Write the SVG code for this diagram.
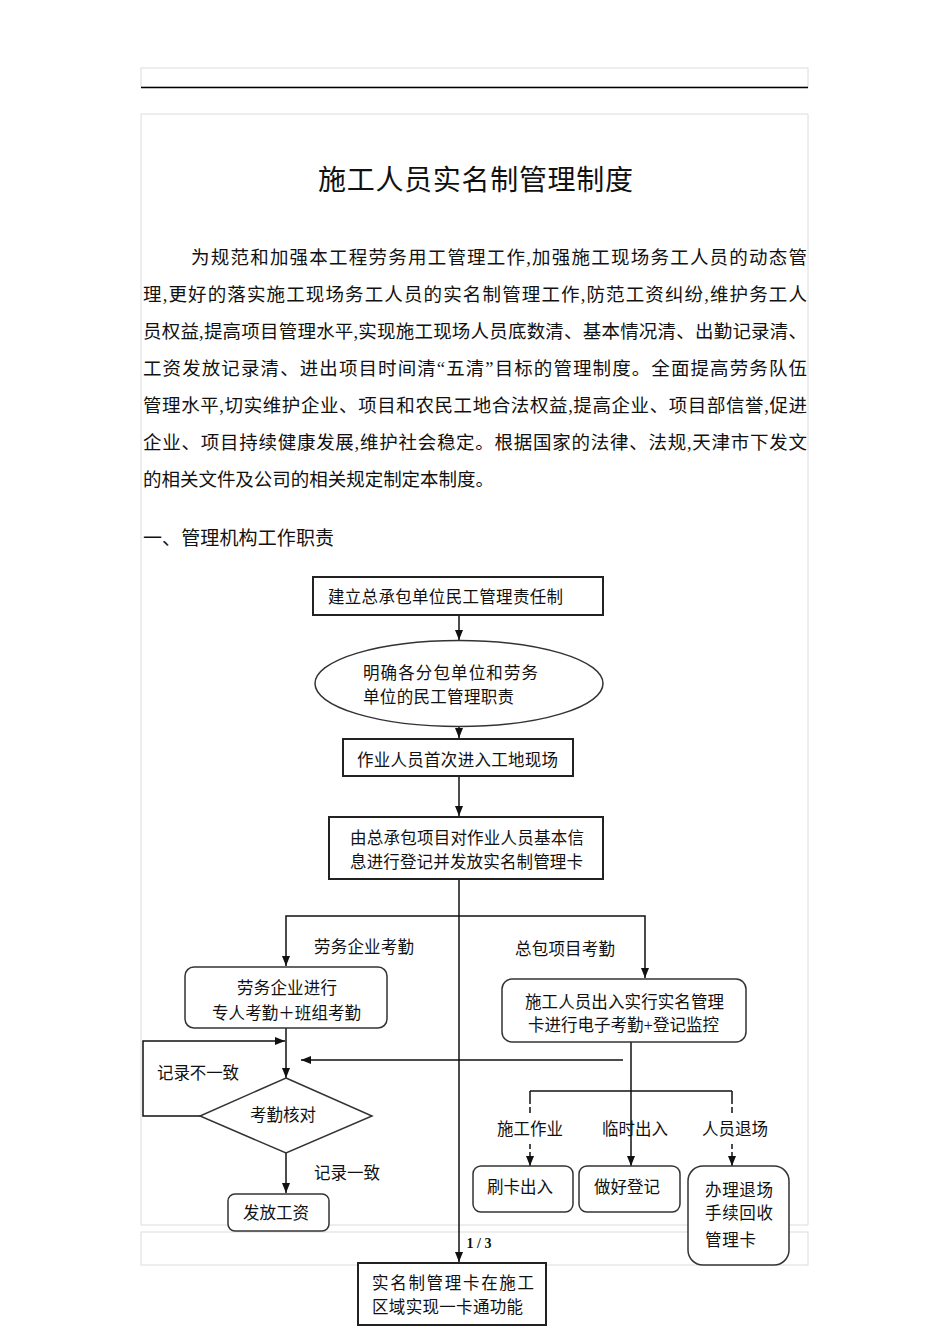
<svg xmlns="http://www.w3.org/2000/svg" width="950" height="1344" viewBox="0 0 950 1344">
<style>
.page{fill:none;stroke:#dcdcdc;stroke-width:1}
.t{font-family:"Liberation Serif","Noto Sans CJK SC",serif;fill:#111}
.p{font-size:18.5px}
.f{font-size:16.5px}
.box{fill:#fff;stroke:#222;stroke-width:2}
.rbox{fill:#fff;stroke:#333;stroke-width:1.5}
.ln{fill:none;stroke:#111;stroke-width:1.5}
</style>
<defs>
<marker id="ah" markerUnits="userSpaceOnUse" markerWidth="10" markerHeight="10" viewBox="0 0 10 10" refX="10" refY="5" orient="auto">
<path d="M0,1 L10,5 L0,9 Z" fill="#111"/>
</marker>
</defs>
<rect width="950" height="1344" fill="#fff"/>
<g id="page-frame">
<rect class="page" x="141" y="68" width="667" height="19"/>
<line x1="141" y1="87.5" x2="808" y2="87.5" stroke="#000" stroke-width="1.6"/>
<path class="page" d="M141,1225 V114 H808 V1225 H141"/>
<rect class="page" x="141" y="1232" width="667" height="33"/>
<text x="479" y="1248" text-anchor="middle" font-family="Liberation Serif,serif" font-weight="bold" font-size="14" fill="#111">1 / 3</text>
</g>
<g id="document-text" class="t">
<text x="318" y="190" font-size="28" textLength="315" lengthAdjust="spacing">施工人员实名制管理制度</text>
<text class="p" x="191" y="264" textLength="616" lengthAdjust="spacing">为规范和加强本工程劳务用工管理工作,加强施工现场务工人员的动态管</text>
<text class="p" x="143" y="301" textLength="664" lengthAdjust="spacing">理,更好的落实施工现场务工人员的实名制管理工作,防范工资纠纷,维护务工人</text>
<text class="p" x="143" y="338" textLength="664" lengthAdjust="spacing">员权益,提高项目管理水平,实现施工现场人员底数清、基本情况清、出勤记录清、</text>
<text class="p" x="143" y="375" textLength="664" lengthAdjust="spacing">工资发放记录清、进出项目时间清“五清”目标的管理制度。全面提高劳务队伍</text>
<text class="p" x="143" y="412" textLength="664" lengthAdjust="spacing">管理水平,切实维护企业、项目和农民工地合法权益,提高企业、项目部信誉,促进</text>
<text class="p" x="143" y="449" textLength="664" lengthAdjust="spacing">企业、项目持续健康发展,维护社会稳定。根据国家的法律、法规,天津市下发文</text>
<text class="p" x="143" y="486" textLength="351" lengthAdjust="spacing">的相关文件及公司的相关规定制定本制度。</text>
<text x="143" y="545" font-size="19" textLength="191" lengthAdjust="spacing">一、管理机构工作职责</text>
</g>
<g id="connectors">
<line class="ln" x1="459" y1="615" x2="459" y2="640" marker-end="url(#ah)"/>
<line class="ln" x1="459" y1="727" x2="459" y2="738" marker-end="url(#ah)"/>
<line class="ln" x1="459" y1="776" x2="459" y2="816" marker-end="url(#ah)"/>
<line class="ln" x1="459" y1="879" x2="459" y2="1262" marker-end="url(#ah)"/>
<path class="ln" d="M459,916 H286 V966" marker-end="url(#ah)"/>
<path class="ln" d="M459,916 H645 V978" marker-end="url(#ah)"/>
<line class="ln" x1="286" y1="1028" x2="286" y2="1078" marker-end="url(#ah)"/>
<path class="ln" d="M200,1116 H143 V1041 H285" marker-end="url(#ah)"/>
<line class="ln" x1="286" y1="1153" x2="286" y2="1193" marker-end="url(#ah)"/>
<line class="ln" x1="623" y1="1060" x2="301" y2="1060" marker-end="url(#ah)"/>
<line class="ln" x1="631" y1="1042" x2="631" y2="1166" marker-end="url(#ah)"/>
<line class="ln" x1="530" y1="1091" x2="732" y2="1091"/>
<path class="ln" d="M530,1091 V1104 M530,1107 V1113 M530,1144 V1149"/>
<line class="ln" x1="530" y1="1152" x2="530" y2="1166" marker-end="url(#ah)"/>
<path class="ln" d="M732,1091 V1104 M732,1107 V1113 M732,1144 V1149"/>
<line class="ln" x1="732" y1="1152" x2="732" y2="1166" marker-end="url(#ah)"/>
<g class="t f">
<text x="314" y="953" textLength="100" lengthAdjust="spacing">劳务企业考勤</text>
<text x="515" y="955" textLength="100" lengthAdjust="spacing">总包项目考勤</text>
<text x="157" y="1079" textLength="82" lengthAdjust="spacing">记录不一致</text>
<text x="314" y="1179" textLength="66" lengthAdjust="spacing">记录一致</text>
<text x="497" y="1135" textLength="66" lengthAdjust="spacing">施工作业</text>
<text x="602" y="1135" textLength="66" lengthAdjust="spacing">临时出入</text>
<text x="702" y="1135" textLength="66" lengthAdjust="spacing">人员退场</text>
</g>
</g>
<g id="n-responsibility">
<rect class="box" x="313" y="577" width="290" height="38"/>
<text class="t f" x="328" y="603" textLength="235" lengthAdjust="spacing">建立总承包单位民工管理责任制</text>
</g>
<g id="n-duties">
<ellipse class="rbox" cx="459" cy="683.5" rx="144" ry="43"/>
<text class="t f" x="363" y="679" textLength="175" lengthAdjust="spacing">明确各分包单位和劳务</text>
<text class="t f" x="363" y="703" textLength="151" lengthAdjust="spacing">单位的民工管理职责</text>
</g>
<g id="n-enter">
<rect class="box" x="343" y="739" width="230" height="37"/>
<text class="t f" x="357" y="766" textLength="201" lengthAdjust="spacing">作业人员首次进入工地现场</text>
</g>
<g id="n-register">
<rect class="box" x="329" y="817" width="274" height="62"/>
<text class="t f" x="350" y="844" textLength="234" lengthAdjust="spacing">由总承包项目对作业人员基本信</text>
<text class="t f" x="350" y="868" textLength="233" lengthAdjust="spacing">息进行登记并发放实名制管理卡</text>
</g>
<g id="n-labor-attendance">
<rect class="rbox" x="185" y="967" width="202" height="61" rx="9"/>
<text class="t f" x="237" y="994" textLength="100" lengthAdjust="spacing">劳务企业进行</text>
<text class="t f" x="212" y="1019" textLength="149" lengthAdjust="spacing">专人考勤＋班组考勤</text>
</g>
<g id="n-card-attendance">
<rect class="rbox" x="502" y="979" width="244" height="63" rx="10"/>
<text class="t f" x="525" y="1008" textLength="199" lengthAdjust="spacing">施工人员出入实行实名管理</text>
<text class="t f" x="528" y="1031" textLength="191" lengthAdjust="spacing">卡进行电子考勤+登记监控</text>
</g>
<g id="n-check">
<polygon class="rbox" points="286,1078 372,1116 286,1153 200,1116"/>
<text class="t f" x="250" y="1121" textLength="66" lengthAdjust="spacing">考勤核对</text>
</g>
<g id="n-pay">
<rect class="rbox" x="228" y="1194" width="101" height="37" rx="7"/>
<text class="t f" x="243" y="1219" textLength="66" lengthAdjust="spacing">发放工资</text>
</g>
<g id="n-swipe">
<rect class="rbox" x="473" y="1166" width="100" height="46" rx="8"/>
<text class="t f" x="487" y="1193" textLength="66" lengthAdjust="spacing">刷卡出入</text>
</g>
<g id="n-log">
<rect class="rbox" x="579" y="1166" width="101" height="46" rx="8"/>
<text class="t f" x="594" y="1193" textLength="66" lengthAdjust="spacing">做好登记</text>
</g>
<g id="n-exit">
<rect class="rbox" x="688" y="1166" width="101" height="99" rx="15"/>
<text class="t f" x="705" y="1196" textLength="68" lengthAdjust="spacing">办理退场</text>
<text class="t f" x="705" y="1219" textLength="68" lengthAdjust="spacing">手续回收</text>
<text class="t f" x="705" y="1246" textLength="51" lengthAdjust="spacing">管理卡</text>
</g>
<g id="n-onecard">
<rect class="box" x="358" y="1263" width="188" height="62"/>
<text class="t f" x="372" y="1289" font-size="17.5" textLength="162" lengthAdjust="spacing">实名制管理卡在施工</text>
<text class="t f" x="372" y="1313" font-size="17.5" textLength="151" lengthAdjust="spacing">区域实现一卡通功能</text>
</g>
</svg>
